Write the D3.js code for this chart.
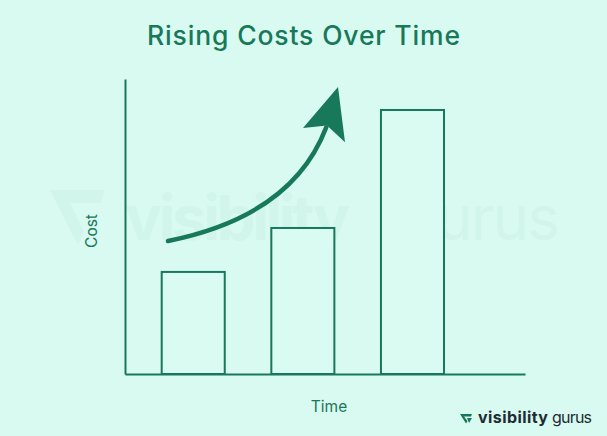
<!DOCTYPE html>
<html><head><meta charset="utf-8">
<script src="https://cdn.jsdelivr.net/npm/d3@7"></script>
<style>
html,body{margin:0;padding:0;background:#d8faf0;}
svg{display:block;}
</style></head>
<body>
<svg id="c" width="607" height="436"></svg>
<script>
// ---- data ----
const categories = ["Period 1", "Period 2", "Period 3"];
const costValues = [34.6, 49.5, 89.5];
const titleText = "Rising Costs Over Time";
const xAxisLabel = "Time";
const yAxisLabel = "Cost";
// trend arrow, in (position 0-100 along time axis, cost value)
const arrowCurve = [[10.75, 45.1], [41.9, 53.6], [50.3, 83.6]];
const arrowHead = [[53.25, 97.3], [44.5, 83.4], [50.5, 84.2], [55, 78.6]];

const W = 607, H = 436;
const green = "#17785a";
const svg = d3.select("#c");
svg.append("rect").attr("width", W).attr("height", H).attr("fill", "#d8faf0");

const plot = {left: 125, right: 525, top: 79, bottom: 374};
const y = d3.scaleLinear().domain([0, 100]).range([plot.bottom, plot.top]);
const x = d3.scaleBand().domain(categories).range([161.7, 444]).paddingInner(0.425).paddingOuter(0);
const xPos = d3.scaleLinear().domain([0, 100]).range([plot.left, plot.right]);

// watermark
const wm = svg.append("g").attr("opacity", 0.028).attr("fill", green);
wm.append("path").attr("d", "M50,190 L105,190 L100,203 L70,203 L84,232 L78,245 Z");
wm.append("text").attr("x", 125).attr("y", 240).attr("font-family", "Inter, sans-serif")
  .attr("font-weight", 700).attr("font-size", 62).attr("textLength", 225).text("visibility");
wm.append("text").attr("x", 400).attr("y", 240).attr("font-family", "Inter, sans-serif")
  .attr("font-weight", 400).attr("font-size", 62).attr("textLength", 160).text("gurus");

// title
svg.append("text").attr("x", 147).attr("y", 45)
  .attr("font-family", "Inter, sans-serif").attr("font-weight", 500).attr("font-size", 26.5)
  .attr("textLength", 313).attr("lengthAdjust", "spacing")
  .attr("fill", green).text(titleText);

// bars
svg.append("g").selectAll("rect").data(costValues).join("rect")
  .attr("x", (d, i) => x(categories[i]))
  .attr("y", d => y(d))
  .attr("width", x.bandwidth())
  .attr("height", d => y(0) - y(d))
  .attr("fill", "#dafbf1")
  .attr("stroke", green).attr("stroke-width", 2);

// axes (lines only, no ticks)
const yAxis = d3.axisLeft(y).tickValues([]).tickSizeOuter(0);
const gy = svg.append("g").attr("transform", `translate(${plot.left},0)`).call(yAxis);
const xAxis = d3.axisBottom(xPos).tickValues([]).tickSizeOuter(0);
const gx = svg.append("g").attr("transform", `translate(0,${plot.bottom})`).call(xAxis);
[gy, gx].forEach(g => g.select(".domain").attr("stroke", green).attr("stroke-width", 2));

// axis labels
svg.append("text").attr("x", 329).attr("y", 411.5).attr("text-anchor", "middle")
  .attr("font-family", "Inter, sans-serif").attr("font-size", 15.5).attr("fill", green).text(xAxisLabel);
svg.append("text").attr("transform", "translate(96.5,231) rotate(-90)").attr("text-anchor", "middle")
  .attr("font-family", "Inter, sans-serif").attr("font-size", 15.5).attr("fill", green).text(yAxisLabel);

// trend arrow
const pc = arrowCurve.map(p => [xPos(p[0]), y(p[1])]);
const path = d3.path();
path.moveTo(pc[0][0], pc[0][1]);
path.quadraticCurveTo(pc[1][0], pc[1][1], pc[2][0], pc[2][1]);
svg.append("path").attr("d", path.toString()).attr("fill", "none")
  .attr("stroke", green).attr("stroke-width", 4.5).attr("stroke-linecap", "round");
svg.append("path").attr("d", d3.line()(arrowHead.map(p => [xPos(p[0]), y(p[1])])) + "Z")
  .attr("fill", green);

// logo
const logo = svg.append("g");
logo.append("path").attr("d", "M460,414 L472,414 L471,416.5 L464,416.5 L467.5,421 L466,423.5 Z").attr("fill", green);
logo.append("path").attr("d", "M467,418 L472,418 L469,423 Z").attr("fill", green);
logo.append("text").attr("x", 478).attr("y", 423).attr("font-family", "Inter, sans-serif")
  .attr("font-weight", 700).attr("font-size", 16).attr("textLength", 70).attr("fill", "#1d2b33").text("visibility");
logo.append("text").attr("x", 552).attr("y", 423).attr("font-family", "Inter, sans-serif")
  .attr("font-weight", 400).attr("font-size", 16).attr("textLength", 40).attr("fill", "#1d2b33").text("gurus");
</script>
</body></html>
